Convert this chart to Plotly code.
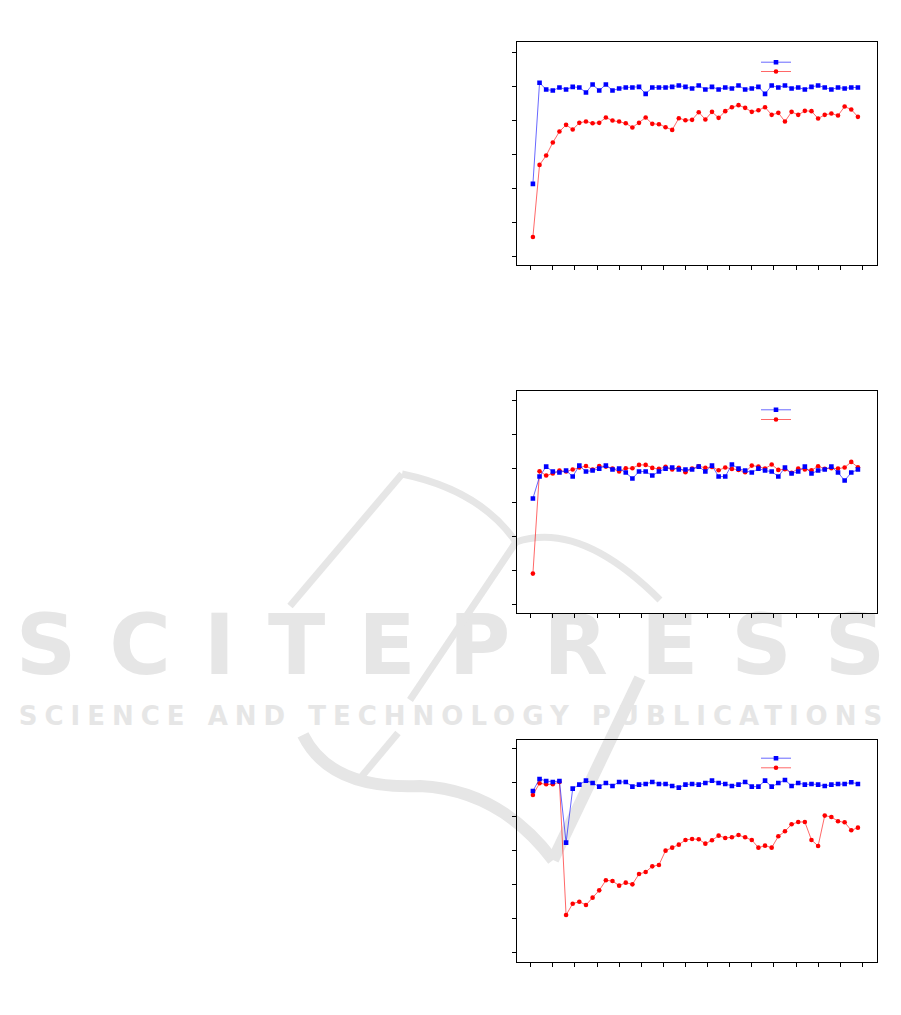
import plotly.graph_objects as go

W, H = 901, 1015

# ---------------- data ----------------
epochs = [1 + 3 * k for k in range(50)]
x_ticks = list(range(0, 151, 10))
y_ticks = list(range(0, 7))


def conv(pix, base, step):
    return [round((base - p) / step, 3) for p in pix]

# pixel readings of each marker, converted to axis values below
c1_blue_pix = [447, 144, 164, 167, 158, 164, 156, 158, 173, 149, 167, 149, 167, 161, 158, 158, 156, 177, 158, 158,
               158, 156, 152, 156, 161, 152, 164, 156, 164, 158, 161, 152, 164, 161, 156, 177, 152, 158, 152, 161,
               158, 164, 156, 152, 158, 164, 158, 161, 158, 158]
c1_red_pix = [606, 390, 362, 323, 290, 270, 284, 264, 260, 265, 264, 248, 257, 260, 265, 278, 264, 248, 267, 268,
              277, 285, 250, 256, 255, 232, 254, 231, 249, 229, 217, 211, 219, 231, 226, 217, 240, 234, 260, 231,
              240, 228, 229, 251, 240, 236, 242, 215, 224, 246]
c2_blue_pix = [341, 275, 245, 260, 263, 257, 275, 242, 260, 257, 251, 242, 254, 251, 263, 281, 260, 260, 272, 260,
               251, 248, 254, 254, 254, 245, 260, 242, 275, 275, 239, 251, 257, 263, 251, 257, 260, 275, 248, 266,
               260, 245, 266, 257, 254, 245, 263, 287, 263, 254]
c2_red_pix = [567, 259, 272, 266, 257, 260, 254, 248, 243, 254, 243, 245, 251, 260, 250, 250, 240, 240, 249, 252,
              246, 254, 249, 262, 251, 244, 249, 246, 256, 248, 252, 255, 262, 242, 245, 251, 239, 255, 253, 264,
              251, 254, 256, 244, 252, 250, 251, 248, 231, 247]
c3_blue_pix = [168, 132, 138, 141, 138, 323, 161, 149, 137, 144, 155, 144, 153, 141, 141, 155, 149, 147, 141, 147,
               147, 153, 158, 149, 147, 149, 144, 137, 144, 147, 153, 149, 141, 155, 155, 137, 155, 144, 135, 153,
               144, 149, 147, 149, 153, 149, 147, 147, 142, 147]
c3_red_pix = [180, 145, 148, 148, 141, 540, 506, 500, 510, 488, 466, 436, 438, 452, 443, 448, 417, 411, 394, 390,
              347, 338, 329, 315, 312, 313, 326, 316, 302, 309, 307, 300, 307, 315, 338, 332, 338, 304, 289, 268,
              261, 261, 315, 333, 242, 246, 259, 262, 286, 278]

c1_blue = conv(c1_blue_pix, 666, 102.3)
c1_red = conv(c1_red_pix, 666, 102.3)
c2_blue = conv(c2_blue_pix, 659, 102.3)
c2_red = conv(c2_red_pix, 659, 102.3)
c3_blue = conv(c3_blue_pix, 652, 101.8)
c3_red = conv(c3_red_pix, 652, 101.8)

# (blue, red, (frame top px, frame bottom px), y range, (legend blue px, legend red px))
panels = [
    (c1_blue, c1_red, (42.3, 265.0), [-0.235, 6.29], (61.7, 71.0)),
    (c2_blue, c2_red, (391.0, 613.0), [-0.26, 6.27], (409.3, 419.0)),
    (c3_blue, c3_red, (739.5, 961.7), [-0.275, 6.27], (757.7, 767.3)),
]

BLUE = "#0000ff"
RED = "#ff0000"
GRAY = "#e6e6e6"

fig = go.Figure()


def px_x(p):
    return p / W


def px_y(p):
    return 1 - p / H


x_domain = [px_x(516.7), px_x(876.7)]
legend_layout = {}

for i, (blue, red, (top, bot), yr, (lb, lr)) in enumerate(panels):
    n = i + 1
    xa = "x" if n == 1 else f"x{n}"
    ya = "y" if n == 1 else f"y{n}"
    lg_b = "legend" if n == 1 else f"legend{2 * n - 1}"
    lg_r = f"legend{2 * n}"
    fig.add_trace(go.Scatter(
        x=epochs, y=red, mode="lines+markers", name=" ",
        line=dict(color=RED, width=0.6),
        marker=dict(symbol="circle", size=4.6, color=RED),
        xaxis=xa, yaxis=ya, legend=lg_r, showlegend=True))
    fig.add_trace(go.Scatter(
        x=epochs, y=blue, mode="lines+markers", name=" ",
        line=dict(color=BLUE, width=0.6),
        marker=dict(symbol="square", size=4.6, color=BLUE),
        xaxis=xa, yaxis=ya, legend=lg_b, showlegend=True))

    axis_common = dict(showline=True, linecolor="black", linewidth=1, mirror=True,
                       ticks="outside", ticklen=4, tickcolor="black", tickwidth=1,
                       showticklabels=False, showgrid=False, zeroline=False)
    xkey = "xaxis" if n == 1 else f"xaxis{n}"
    ykey = "yaxis" if n == 1 else f"yaxis{n}"
    fig.update_layout(**{
        xkey: dict(domain=x_domain, range=[-6.33, 156.5], tickmode="array", tickvals=x_ticks,
                   anchor=ya, **axis_common),
        ykey: dict(domain=[px_y(bot), px_y(top)], range=yr, tickmode="array", tickvals=y_ticks,
                   anchor=xa, **axis_common),
    })
    for lg, yc in ((lg_b, lb), (lg_r, lr)):
        legend_layout[lg] = dict(x=px_x(756), y=px_y(yc - 14.0), xanchor="left", yanchor="top",
                                 bgcolor="rgba(0,0,0,0)", borderwidth=0,
                                 font=dict(size=6), itemwidth=30)

fig.update_layout(**legend_layout)

# ---------------- watermark (drawn beneath the charts) ----------------
wm1 = "SCITEPRESS"
wm2 = "SCIENCE AND TECHNOLOGY PUBLICATIONS"


def spaced(text, ls):
    # letter spacing between letters only (no trailing space after the last one)
    return f'<span style="letter-spacing:{ls}px">{text[:-1]}</span>{text[-1]}'


def px_box(x0, y0, x1, y1):
    return dict(x0=px_x(x0), x1=px_x(x1), y0=px_y(y1), y1=px_y(y0))

fig.add_shape(type="rect", xref="paper", yref="paper", layer="below",
              line=dict(width=0), fillcolor="rgba(0,0,0,0)",
              label=dict(text=spaced(wm1, 33), textposition="middle center",
                         font=dict(family="DejaVu Sans", size=84, color=GRAY, weight="bold")),
              **px_box(0, 600, 901, 678))
fig.add_shape(type="rect", xref="paper", yref="paper", layer="below",
              line=dict(width=0), fillcolor="rgba(0,0,0,0)",
              label=dict(text=spaced(wm2, 7), textposition="middle center",
                         font=dict(family="DejaVu Sans", size=26, color=GRAY, weight="bold")),
              **px_box(0, 700, 901, 727))


def path(points_cmd):
    out = []
    for tok in points_cmd:
        if isinstance(tok, str):
            out.append(tok)
        else:
            out.append(f"{px_x(tok[0]):.4f},{px_y(tok[1]):.4f}")
    return " ".join(out)

swoosh = [
    (["M", (290, 606), "L", (402, 474)], 7),
    (["M", (402, 474), "Q", (480, 490), (516, 542)], 7),
    (["M", (516, 542), "Q", (580, 520), (660, 600)], 7),
    (["M", (516, 542), "L", (410, 700)], 7),
    (["M", (398, 733), "L", (362, 776)], 7),
    (["M", (303, 735), "Q", (330, 790), (420, 786), "Q", (500, 790), (553, 860)], 12),
    (["M", (553, 860), "L", (640, 678)], 12),
]
for cmd, wdt in swoosh:
    fig.add_shape(type="path", path=path(cmd), xref="paper", yref="paper",
                  line=dict(color=GRAY, width=wdt), layer="below")

fig.update_layout(
    width=W, height=H, margin=dict(l=0, r=0, t=0, b=0),
    paper_bgcolor="white", plot_bgcolor="rgba(0,0,0,0)",
    showlegend=True,
)

fig.write_html("out.html", config={"displayModeBar": False},
               post_script="document.body.style.margin='0';")
